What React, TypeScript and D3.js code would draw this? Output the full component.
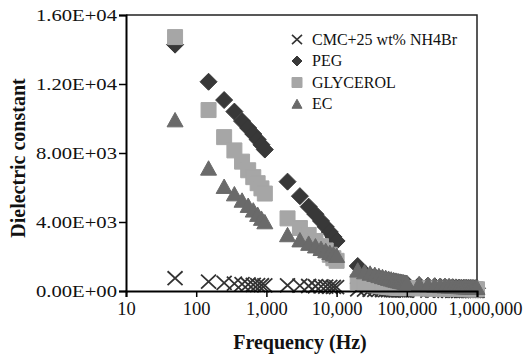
import { useRef, useEffect } from 'react';
import * as d3 from 'd3';

// measurement frequencies (Hz)
const frequencies = [
  50, 150, 250, 350, 450, 550, 650, 750, 850, 950,
  2000, 3000, 4000, 5000, 6000, 7000, 8000, 9000, 10000,
  20000, 25000, 30000, 35000, 40000, 45000, 50000, 55000, 60000,
  65000, 70000, 75000, 80000, 85000, 90000, 95000, 100000,
  150000, 200000, 250000, 300000, 350000, 400000, 450000, 500000, 550000,
  600000, 650000, 700000, 750000, 800000, 850000, 900000, 950000, 1000000,
];

const cmcValues = [
  740, 540, 470, 430, 400, 380, 360, 345, 335, 325,
  330, 310, 290, 275, 265, 255, 245, 235, 225,
  90, 80, 70, 65, 60, 55, 50, 47, 45,
  42, 40, 37, 35, 33, 31, 30, 28,
  24, 20, 18, 16, 15, 14, 13, 12, 11,
  10, 9, 8, 7, 6, 5, 4, 4, 3,
];

const pegValues = [
  14280, 12130, 11070, 10400, 9850, 9450, 9100, 8780, 8480, 8200,
  6340, 5500, 4890, 4450, 4060, 3720, 3420, 3140, 2900,
  1450, 1050, 900, 820, 760, 700, 660, 620, 580,
  550, 520, 500, 480, 460, 440, 425, 410,
  340, 300, 275, 255, 240, 228, 218, 210, 202,
  195, 189, 183, 178, 173, 169, 165, 162, 160,
];

const glycerolValues = [
  14720, 10490, 8920, 8150, 7500, 7000, 6600, 6250, 5950, 5650,
  4210, 3650, 3250, 2900, 2600, 2350, 2100, 1900, 1750,
  520, 440, 380, 340, 300, 275, 250, 235, 220,
  210, 200, 192, 185, 180, 175, 170, 165,
  150, 140, 134, 130, 126, 123, 120, 118, 116,
  114, 112, 110, 108, 106, 104, 102, 101, 100,
];

const ecValues = [
  9910, 7110, 6050, 5620, 5250, 4950, 4680, 4430, 4200, 4000,
  3250, 2950, 2750, 2600, 2450, 2330, 2220, 2130, 2050,
  1200, 1100, 1020, 950, 880, 820, 770, 720, 680,
  640, 610, 580, 555, 530, 510, 490, 470,
  400, 350, 320, 300, 285, 270, 260, 250, 242,
  235, 228, 222, 217, 212, 208, 204, 200, 197,
];

const seriesNames = ['CMC+25 wt% NH4Br', 'PEG', 'GLYCEROL', 'EC'];

const yTicks = [0, 4000, 8000, 12000, 16000];
const yTickLabels = ['0.00E+00', '4.00E+03', '8.00E+03', '1.20E+04', '1.60E+04'];
const xTicks = [10, 100, 1000, 10000, 100000, 1000000];
const xTickLabels = ['10', '100', '1,000', '10,000', '100,000', '1,000,000'];

const WIDTH = 523;
const HEIGHT = 360;
const FONT = '"Times New Roman", "Liberation Serif", serif';

type Kind = 'x' | 'diamond' | 'square' | 'triangle';

function markerPath(kind: Kind, s: number) {
  const h = s / 2;
  if (kind === 'x') return `M${-h},${-h * 0.93}L${h},${h * 0.93}M${-h},${h * 0.93}L${h},${-h * 0.93}`;
  if (kind === 'diamond') return `M0,${-h}L${h},0L0,${h}L${-h},0Z`;
  if (kind === 'square') return `M${-h},${-h}L${h},${-h}L${h},${h}L${-h},${h}Z`;
  return `M0,${-h * 0.95}L${h},${h * 0.85}L${-h},${h * 0.85}Z`;
}

const SERIES: { name: string; values: number[]; kind: Kind; color: string; size: number }[] = [
  { name: seriesNames[0], values: cmcValues, kind: 'x', color: '#333', size: 15 },
  { name: seriesNames[1], values: pegValues, kind: 'diamond', color: '#383838', size: 17 },
  { name: seriesNames[2], values: glycerolValues, kind: 'square', color: '#a6a6a6', size: 15 },
  { name: seriesNames[3], values: ecValues, kind: 'triangle', color: '#6a6a6a', size: 16 },
];

export default function App() {
  const svgRef = useRef<SVGSVGElement>(null);

  useEffect(() => {
    if (!svgRef.current) return;
    const svg = d3.select(svgRef.current);
    svg.selectAll('*').remove();

    const left = 126;
    const right = 477;
    const top = 15;
    const bottom = 291;

    const x = d3.scaleLog().domain([10, 1000000]).range([left, right]);
    const y = d3.scaleLinear().domain([0, 16000]).range([bottom, top]);

    svg.append('rect').attr('width', WIDTH).attr('height', HEIGHT).attr('fill', '#fff');

    // plot frame (top / right)
    svg.append('path')
      .attr('d', `M${left},${top}H${right}V${bottom}`)
      .attr('fill', 'none')
      .attr('stroke', '#222')
      .attr('stroke-width', 1.5);

    // markers, series drawn in Excel order
    SERIES.forEach((s) => {
      const g = svg.append('g');
      g.selectAll('path')
        .data(frequencies.map((f, i) => ({ f, v: s.values[i] })))
        .join('path')
        .attr('transform', (d) => `translate(${x(d.f)},${y(d.v)})`)
        .attr('d', markerPath(s.kind, s.size))
        .attr('fill', s.kind === 'x' ? 'none' : s.color)
        .attr('stroke', s.color)
        .attr('stroke-width', s.kind === 'x' ? 1.8 : 1);
    });

    // Y axis
    const yAxis = svg.append('g')
      .attr('transform', `translate(${left},0)`)
      .call(
        d3.axisLeft(y)
          .tickValues(yTicks)
          .tickSize(7)
          .tickPadding(2)
          .tickFormat((_, i) => yTickLabels[i])
      );
    yAxis.select('.domain').attr('stroke', '#000').attr('stroke-width', 2);
    yAxis.selectAll('.tick line').attr('stroke', '#000').attr('stroke-width', 1.5);
    yAxis.selectAll('.tick text')
      .attr('font-family', FONT)
      .attr('font-size', '17px')
      .attr('fill', '#111')
      .attr('textLength', 81)
      .attr('lengthAdjust', 'spacingAndGlyphs');

    // X axis
    const xAxis = svg.append('g')
      .attr('transform', `translate(0,${bottom})`)
      .call(
        d3.axisBottom(x)
          .tickValues(xTicks)
          .tickSize(6)
          .tickPadding(5)
          .tickFormat((_, i) => xTickLabels[i])
      );
    xAxis.select('.domain').attr('stroke', '#000').attr('stroke-width', 2);
    xAxis.selectAll('.tick line').attr('stroke', '#000').attr('stroke-width', 1.5);
    xAxis.selectAll('.tick text')
      .attr('font-family', FONT)
      .attr('font-size', '18.5px')
      .attr('fill', '#111');
    // last label sits a little right of its tick, as in the source
    xAxis.selectAll<SVGTextElement, number>('.tick text')
      .filter((d) => d === 1000000)
      .attr('dx', 8);

    // axis titles
    svg.append('text')
      .attr('transform', 'translate(25,158) rotate(-90)')
      .attr('text-anchor', 'middle')
      .attr('font-family', FONT)
      .attr('font-weight', 'bold')
      .attr('font-size', '20px')
      .attr('fill', '#111')
      .text('Dielectric constant');

    svg.append('text')
      .attr('x', 300)
      .attr('y', 349)
      .attr('text-anchor', 'middle')
      .attr('font-family', FONT)
      .attr('font-weight', 'bold')
      .attr('font-size', '20px')
      .attr('fill', '#111')
      .text('Frequency (Hz)');

    // legend
    const legend = svg.append('g');
    SERIES.forEach((s, i) => {
      const cy = 39.5 + i * 21.5;
      legend.append('path')
        .attr('transform', `translate(297,${cy})`)
        .attr('d', markerPath(s.kind, 10))
        .attr('fill', s.kind === 'x' ? 'none' : s.color)
        .attr('stroke', s.color)
        .attr('stroke-width', s.kind === 'x' ? 1.6 : 1);
      legend.append('text')
        .attr('x', 312)
        .attr('y', cy + 5)
        .attr('font-family', FONT)
        .attr('font-size', '16px')
        .attr('fill', '#111')
        .text(s.name);
    });
  }, []);

  return (
    <div style={{ position: 'absolute', left: 0, top: 0, width: WIDTH, height: HEIGHT, overflow: 'hidden' }}>
      <svg ref={svgRef} width={WIDTH} height={HEIGHT} viewBox={`0 0 ${WIDTH} ${HEIGHT}`} style={{ display: 'block' }} />
    </div>
  );
}
